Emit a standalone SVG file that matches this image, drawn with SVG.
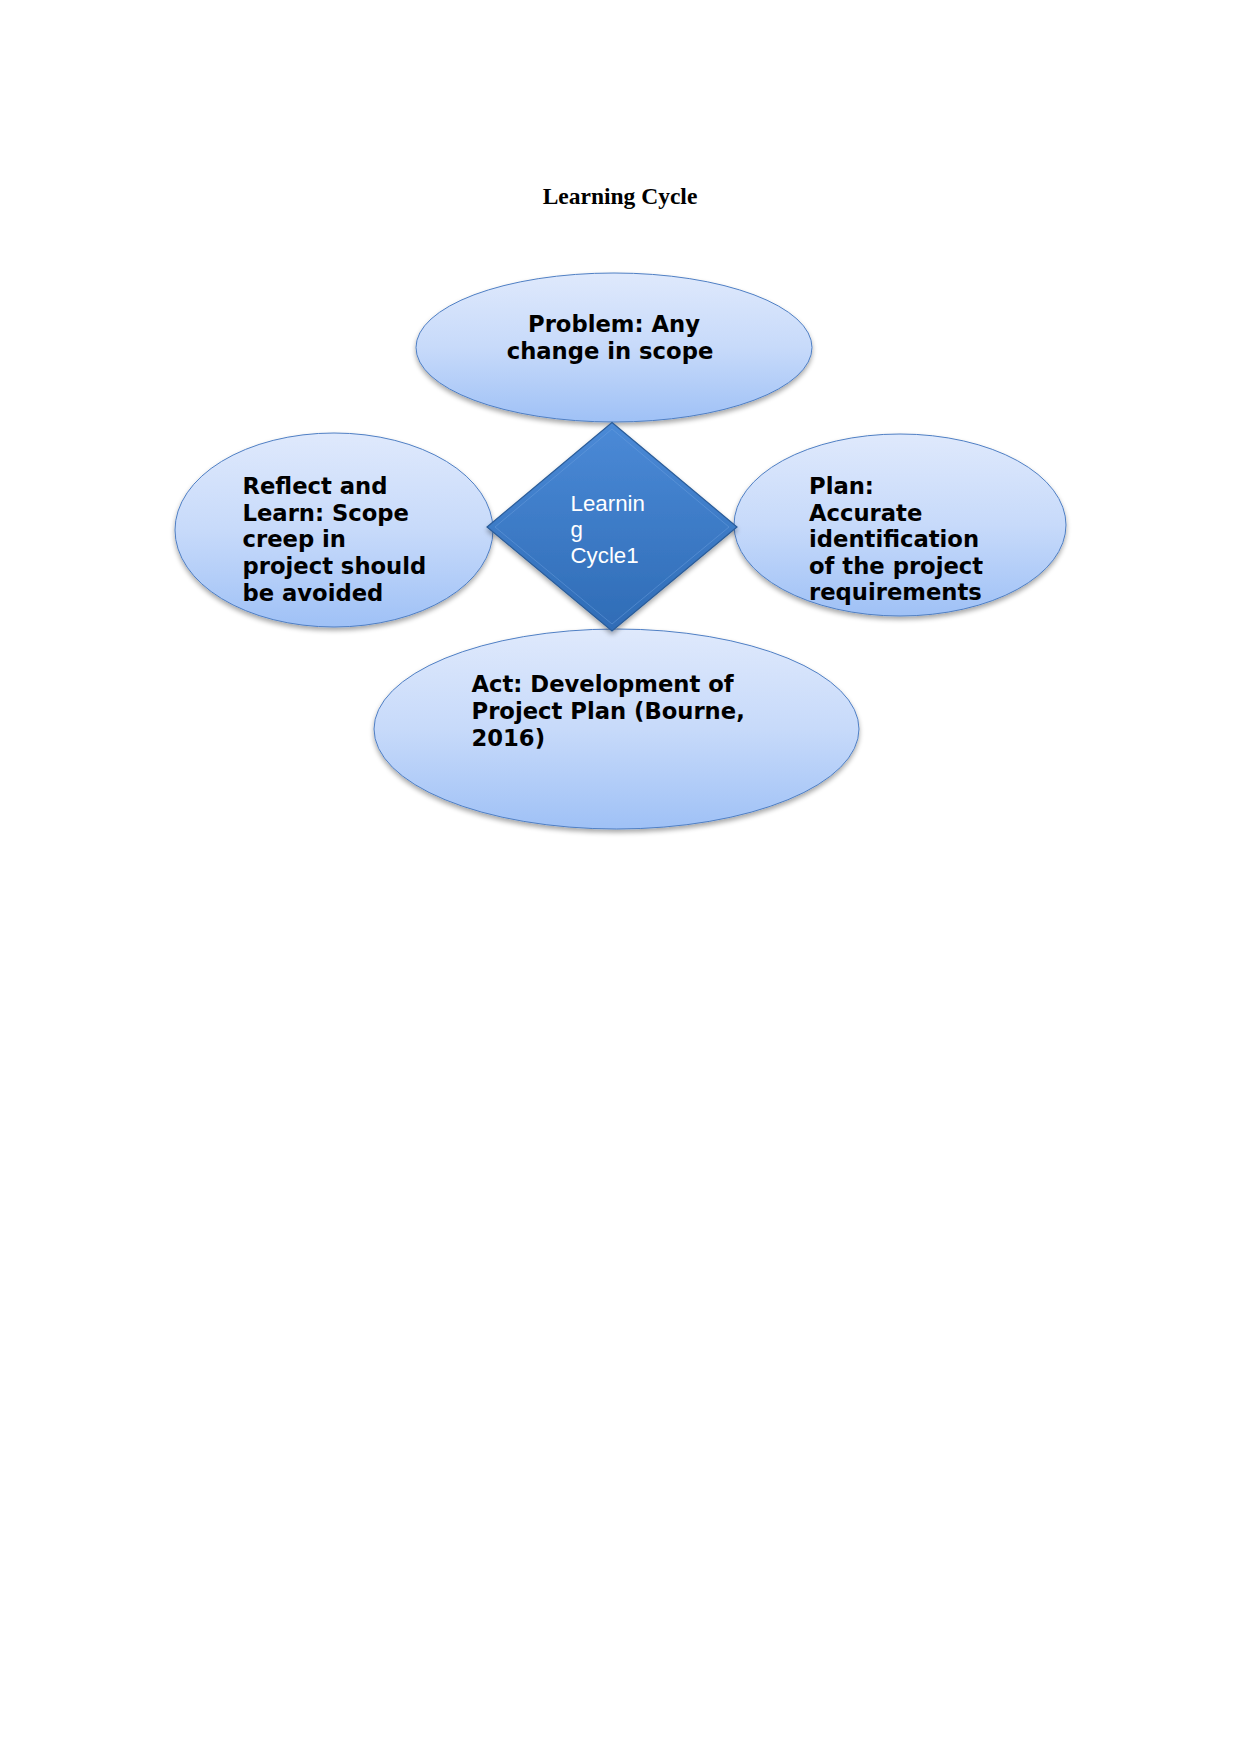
<svg xmlns="http://www.w3.org/2000/svg" width="1241" height="1754" viewBox="0 0 1241 1754">
  <defs>
    <linearGradient id="ellFill" x1="0" y1="0" x2="0" y2="1">
      <stop offset="0" stop-color="#dfe9fc"/>
      <stop offset="0.5" stop-color="#c7dafa"/>
      <stop offset="1" stop-color="#9fc1f6"/>
    </linearGradient>
    <linearGradient id="diaFill" x1="0" y1="0" x2="0" y2="1">
      <stop offset="0" stop-color="#4b8ad7"/>
      <stop offset="1" stop-color="#2f6cb6"/>
    </linearGradient>
    <filter id="shadow" x="-10%" y="-10%" width="120%" height="130%">
      <feGaussianBlur in="SourceAlpha" stdDeviation="2.5"/>
      <feOffset dx="0" dy="3" result="b"/>
      <feComponentTransfer><feFuncA type="linear" slope="0.35"/></feComponentTransfer>
      <feMerge><feMergeNode/><feMergeNode in="SourceGraphic"/></feMerge>
    </filter>
  </defs>
  <style>
    .ell { fill: url(#ellFill); stroke: #4f7fc4; stroke-width: 1; filter: url(#shadow); }
    .lbl { font-family: "DejaVu Sans", sans-serif; font-weight: bold; font-size: 22.7px; fill: #000; }
    .dlbl { font-family: "Liberation Sans", Arial, sans-serif; font-size: 22.3px; fill: #ffffff; }
    .title { font-family: "Liberation Serif", "Times New Roman", serif; font-weight: bold; font-size: 23.5px; fill: #000; }
  </style>
  <rect width="1241" height="1754" fill="#ffffff"/>
  <text class="title" x="620" y="204" text-anchor="middle">Learning Cycle</text>

  <g id="connectors"></g>

  <g id="node-problem">
    <ellipse class="ell" cx="614" cy="347.5" rx="198" ry="74.5"/>
    <text class="lbl" text-anchor="middle"><tspan x="614" y="331.5">Problem: Any</tspan><tspan x="610" y="358.5">change in scope</tspan></text>
  </g>

  <g id="node-reflect">
    <ellipse class="ell" cx="334" cy="530" rx="159" ry="97"/>
    <text class="lbl"><tspan x="242.5" y="494">Reflect and</tspan><tspan x="242.5" y="520.7">Learn: Scope</tspan><tspan x="242.5" y="547.4">creep in</tspan><tspan x="242.5" y="574.1">project should</tspan><tspan x="242.5" y="600.8">be avoided</tspan></text>
  </g>

  <g id="node-plan">
    <ellipse class="ell" cx="900" cy="525" rx="166" ry="91"/>
    <text class="lbl"><tspan x="809" y="494">Plan:</tspan><tspan x="809" y="520.5">Accurate</tspan><tspan x="809" y="547">identification</tspan><tspan x="809" y="573.5">of the project</tspan><tspan x="809" y="600">requirements</tspan></text>
  </g>

  <g id="node-act">
    <ellipse class="ell" cx="616.5" cy="729" rx="242.5" ry="100"/>
    <text class="lbl"><tspan x="471.5" y="692.3">Act: Development of</tspan><tspan x="471.5" y="719.2">Project Plan (Bourne,</tspan><tspan x="471.5" y="746">2016)</tspan></text>
  </g>

  <g id="node-center">
    <polygon points="612,422.5 737,527 612,631 487,527" fill="url(#diaFill)" stroke="#2a5c99" stroke-width="1.2" filter="url(#shadow)"/>
    <polygon points="612,429 729,527 612,624 495,527" fill="none" stroke="#6fa2e0" stroke-width="1" opacity="0.45"/>
    <text class="dlbl"><tspan x="570.5" y="510.5">Learnin</tspan><tspan x="570.5" y="536.5">g</tspan><tspan x="570.5" y="562.5">Cycle1</tspan></text>
  </g>
</svg>
